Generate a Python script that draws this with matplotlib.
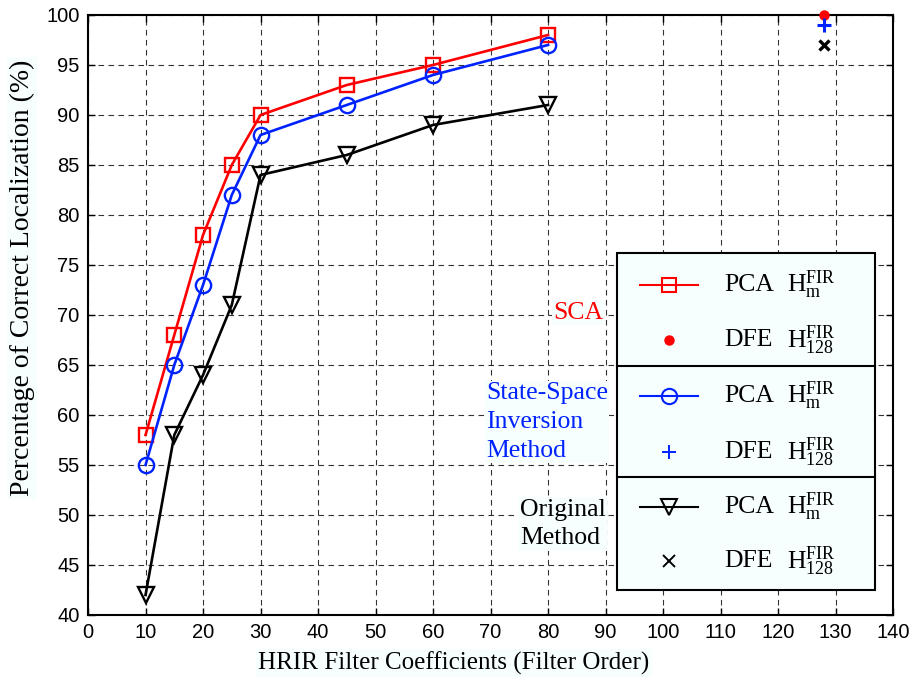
import numpy as np
import matplotlib
matplotlib.use("Agg")
import matplotlib.pyplot as plt
from matplotlib.patches import Rectangle

plt.rcParams['mathtext.fontset'] = 'custom'
plt.rcParams['mathtext.rm'] = 'Liberation Serif'
plt.rcParams['mathtext.it'] = 'Liberation Serif:italic'

# filter orders and localization rates (%)
orders = [10, 15, 20, 25, 30, 45, 60, 80]
sca_pca = [58, 68, 78, 85, 90, 93, 95, 98]
ssi_pca = [55, 65, 73, 82, 88, 91, 94, 97]
orig_pca = [42, 58, 64, 71, 84, 86, 89, 91]

# full-length (128 tap) DFE results
dfe_order = 128
sca_dfe = 100
ssi_dfe = 99
orig_dfe = 97

xticks = list(range(0, 141, 10))
yticks = list(range(40, 101, 5))

SERIF = 'Liberation Serif'
SANS = 'Liberation Sans'
BG = '#f6fefe'

fig = plt.figure(figsize=(9.18, 6.84), dpi=100)
ax = fig.add_axes([0.0959, 0.1009, 0.8769, 0.8772])

ax.plot(orders, sca_pca, color='#ff0000', lw=1.9, marker='s', ms=10.5,
        mfc='none', mec='#ff0000', mew=1.7, clip_on=False, zorder=5)
ax.plot(orders, ssi_pca, color='#0022ff', lw=1.9, marker='o', ms=11,
        mfc='none', mec='#0022ff', mew=1.7, clip_on=False, zorder=5)
ax.plot(orders, orig_pca, color='k', lw=1.9, marker='v', ms=11.5,
        mfc='none', mec='k', mew=1.7, clip_on=False, zorder=5)

ax.plot([dfe_order], [sca_dfe], 'o', color='#ff0000', ms=6.5, clip_on=False, zorder=6)
ax.plot([dfe_order], [ssi_dfe], '+', color='#0022ff', ms=10, mew=2.2, clip_on=False, zorder=6)
ax.plot([dfe_order], [orig_dfe], 'x', color='k', ms=7.5, mew=2.4, clip_on=False, zorder=6)

ax.set_xlim(0, 140)
ax.set_ylim(40, 100)
ax.set_xticks(xticks)
ax.set_yticks(yticks)
ax.tick_params(direction='in', top=True, right=True, length=5, width=1,
               labelsize=14.5, pad=6)
for lab in ax.get_xticklabels() + ax.get_yticklabels():
    lab.set_family(SANS)
ax.grid(True, color='k', lw=0.8, linestyle=(0, (5, 4)), alpha=0.8)
for sp in ax.spines.values():
    sp.set_linewidth(1.5)

# axis titles
fig.text(454 / 918, 1 - 663 / 684, 'HRIR Filter Coefficients (Filter Order)',
         family=SERIF, fontsize=18, ha='center', va='center',
         bbox=dict(facecolor=BG, edgecolor='none', pad=2))
fig.text(22 / 918, 1 - 278 / 684, 'Percentage of Correct Localization (%)',
         family=SERIF, fontsize=20, ha='center', va='center', rotation=90,
         bbox=dict(facecolor=BG, edgecolor='none', pad=2))

# group labels beside the legend
ax.text(89.7, 70.2, 'SCA', color='#ff0000', family=SERIF, fontsize=18.5,
        ha='right', va='center', zorder=7,
        bbox=dict(facecolor=BG, edgecolor='none', pad=1))
ax.text(69.2, 59.3, 'State-Space\nInversion\nMethod', color='#0022ff',
        family=SERIF, fontsize=18.5, ha='left', va='center', linespacing=1.4,
        zorder=7, bbox=dict(facecolor=BG, edgecolor='none', pad=1))
ax.text(90.0, 49.1, 'Original\nMethod', color='k', family=SERIF, fontsize=18.5,
        ha='right', va='center', multialignment='left', linespacing=1.4,
        zorder=7, bbox=dict(facecolor=BG, edgecolor='none', pad=1))

# hand-made legend box with three groups
ax.add_patch(Rectangle((92.0, 42.5), 44.9, 33.7, facecolor=BG, edgecolor='k',
                       lw=1.5, zorder=8, clip_on=False))
ax.plot([92.0, 136.9], [64.9, 64.9], color='k', lw=1.5, zorder=9)
ax.plot([92.0, 136.9], [53.8, 53.8], color='k', lw=1.5, zorder=9)

rows = [73.0, 67.5, 61.9, 56.3, 50.8, 45.4]
hm = r'$\mathrm{H}_{\mathrm{m}}^{\mathrm{FIR}}$'
h128 = r'$\mathrm{H}_{\mathrm{128}}^{\mathrm{FIR}}$'
line_styles = [('#ff0000', 's', 10.5), ('#0022ff', 'o', 11), ('k', 'v', 11.5)]
dot_styles = [('#ff0000', 'o', 6.5, 1), ('#0022ff', '+', 10, 1.4), ('k', 'x', 8, 1.4)]
for i in range(3):
    c, m, s = line_styles[i]
    y1 = rows[2 * i]
    y2 = rows[2 * i + 1]
    ax.plot([96.0, 106.1], [y1, y1], color=c, lw=1.5, zorder=10)
    ax.plot([101.0], [y1], marker=m, ms=s, mfc='none', mec=c, mew=1.5, zorder=10)
    dc, dm, ds, dw = dot_styles[i]
    ax.plot([101.0], [y2], marker=dm, ms=ds, color=dc, mew=dw, zorder=10)
    ax.text(110.6, y1, 'PCA', family=SERIF, fontsize=18.5, va='center', zorder=10)
    ax.text(110.6, y2, 'DFE', family=SERIF, fontsize=18.5, va='center', zorder=10)
    ax.text(121.6, y1, hm, fontsize=18.5, va='center', zorder=10)
    ax.text(121.6, y2, h128, fontsize=18.5, va='center', zorder=10)

fig.savefig('out.png', dpi=100)
